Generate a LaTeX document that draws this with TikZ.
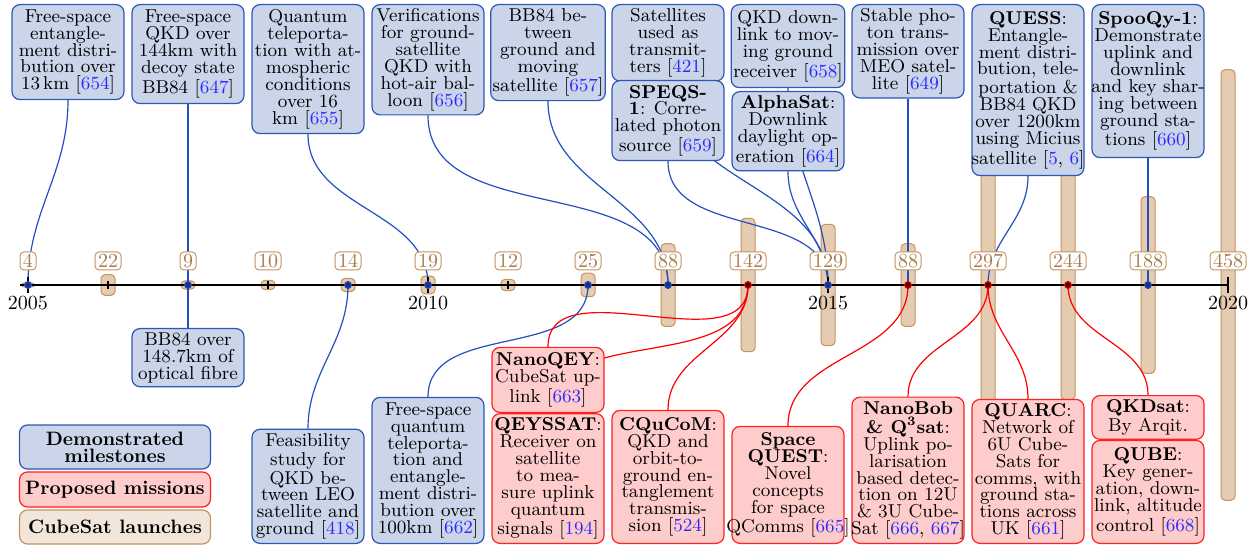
\documentclass[tikz,border=0pt]{standalone}
\usetikzlibrary{calc}
\definecolor{evblue}{HTML}{CBD5EA}
\definecolor{evblueline}{HTML}{2C56B8}
\definecolor{connblue}{HTML}{2250BE}
\definecolor{evred}{HTML}{FFCCCC}
\definecolor{evredline}{HTML}{FF2020}
\definecolor{barfill}{HTML}{E5CBB0}
\definecolor{barline}{HTML}{C49462}
\definecolor{legtan}{HTML}{F2E6DA}
\definecolor{numtext}{HTML}{A67A4E}
\definecolor{citeblue}{HTML}{2A2AFF}
\definecolor{dotblue}{HTML}{1B2F8A}
\pgfdeclarelayer{bars}
\pgfdeclarelayer{links}
\pgfsetlayers{bars,links,main}
\newcommand{\refn}[1]{[\textcolor{citeblue}{#1}]}
\newcommand{\ovl}[1]{\makebox[0pt]{#1}}
\tikzset{
  hpx/.style={minimum height=#1*0.5pt},
  evbox/.style={rounded corners=4pt, line width=0.6pt, align=center, minimum width=56pt,
    inner xsep=1pt, inner ysep=2pt, font=\fontsize{9.3}{8.45}\selectfont},
  bluebox/.style={evbox, draw=evblueline, fill=evblue},
  redbox/.style={evbox, draw=evredline, fill=evred},
  legbox/.style={evbox, minimum width=95.5pt, font=\fontsize{9.7}{8.6}\selectfont\bfseries},
  numlabel/.style={draw=barline, fill=white, text=numtext, rounded corners=2pt,
    inner xsep=1.5pt, inner ysep=1.2pt, text height=6.6pt, text depth=0pt,
    font=\fontsize{10}{10}\selectfont, line width=0.5pt},
  yearlabel/.style={font=\fontsize{10}{10}\selectfont, inner sep=0pt},
  bluelink/.style={draw=connblue, line width=0.6pt},
  redlink/.style={draw=red, line width=0.6pt},
  barbox/.style={fill=barfill, draw=barline, line width=0.5pt},
}
\begin{document}
\begin{tikzpicture}[x=0.5pt,y=-0.5pt]
\useasboundingbox (0,0) rectangle (1257,550);

% year coordinates
\foreach \yr in {2005,...,2020}
  \coordinate (y\yr) at ({28+80*(\yr-2005)},285);

% CubeSat bars
\begin{pgfonlayer}{bars}
\foreach \yr/\n in {2005/4,2006/22,2007/9,2008/10,2009/14,2010/19,2011/12,2012/25,
                    2013/88,2014/142,2015/129,2016/88,2017/297,2018/244,2019/188,2020/458}{
  \pgfmathsetmacro\hh{0.47*\n}
  \pgfmathsetmacro\rr{min(2,0.235*\n)}
  \draw[barbox, rounded corners=\rr pt] ($(y\yr)+(-7,-\hh)$) rectangle ($(y\yr)+(7,\hh)$);
}
\end{pgfonlayer}

% axis
\draw[line width=1pt] (20,285) -- (y2020);
\foreach \yr in {2006,2007,2008,2009,2011,2012,2013,2014,2016,2017,2018,2019}
  \draw[line width=0.6pt] ($(y\yr)+(0,-4)$) -- ($(y\yr)+(0,4)$);
\foreach \yr in {2005,2010,2015,2020}
  \draw[line width=1pt] ($(y\yr)+(0,-8)$) -- ($(y\yr)+(0,8)$);

% dots
\foreach \yr in {2005,2007,2009,2010,2012,2013,2015,2019}
  \draw[connblue, fill=dotblue, line width=0.5pt] (y\yr) circle[radius=1.7pt];
\foreach \yr in {2014,2016,2017,2018}
  \draw[red, fill=black!75!red, line width=0.5pt] (y\yr) circle[radius=1.7pt];

% number labels
\foreach \yr/\n in {2005/4,2006/22,2007/9,2008/10,2009/14,2010/19,2011/12,2012/25,
                    2013/88,2014/142,2015/129,2016/88,2017/297,2018/244,2019/188,2020/458}
  \node[numlabel] (n\yr) at ($(y\yr)+(0,-24)$) {\n};

% year labels
\foreach \yr in {2005,2010,2015,2020}
  \node[yearlabel] (l\yr) at ($(y\yr)+(0,18)$) {\yr};

% top boxes
\node[bluebox,anchor=north,hpx=95] (t1) at (68,4) {Free-space\\entangle-\\ment distri-\\bution over\\13\,km \refn{654}};
\node[bluebox,anchor=north,hpx=99] (t2) at (188,4) {Free-space\\QKD over\\144km with\\decoy state\\BB84 \refn{647}};
\node[bluebox,anchor=north,hpx=129] (t3) at (308,4) {Quantum\\teleporta-\\tion with at-\\mospheric\\conditions\\over 16\\km \refn{655}};
\node[bluebox,anchor=north,hpx=110] (t4) at (428,4) {Verifications\\for ground-\\satellite\\QKD with\\hot-air bal-\\loon \refn{656}};
\node[bluebox,anchor=north,hpx=95] (t5) at (548,4) {BB84 be-\\tween\\ground and\\moving\\satellite \refn{657}};
\node[bluebox,anchor=north,hpx=72] (t6) at (668,4) {Satellites\\used as\\transmit-\\ters \refn{421}};
\node[bluebox,anchor=north,hpx=80] (t7) at (668,80) {\textbf{SPEQS-}\\\textbf{1}: Corre-\\lated photon\\source \refn{659}};
\node[bluebox,anchor=north,hpx=83] (t8) at (788,4) {QKD down-\\link to mov-\\ing ground\\receiver \refn{658}};
\node[bluebox,anchor=north,hpx=78] (t9) at (788,91) {\textbf{AlphaSat}:\\Downlink\\daylight op-\\eration \refn{664}};
\node[bluebox,anchor=north,hpx=93] (t10) at (908,4) {Stable pho-\\ton trans-\\mission over\\MEO satel-\\lite \refn{649}};
\node[bluebox,anchor=north,hpx=171] (t11) at (1028,4) {\textbf{QUESS}:\\Entangle-\\ment distri-\\bution, tele-\\portation \&\\BB84 QKD\\\ovl{over 1200km}\\\ovl{using Micius}\\\ovl{satellite [\textcolor{citeblue}{5}, \textcolor{citeblue}{6}]}};
\node[bluebox,anchor=north,hpx=153] (t12) at (1148,4) {\textbf{SpooQy-1}:\\\ovl{Demonstrate}\\uplink and\\downlink\\\ovl{and key shar-}\\ing between\\ground sta-\\tions \refn{660}};

% bottom boxes
\node[bluebox,anchor=north,hpx=55] (b1) at (188,328) {BB84 over\\148.7km of\\optical fibre};
\node[bluebox,anchor=south,hpx=114] (b2) at (308,544) {Feasibility\\study for\\QKD be-\\tween LEO\\\ovl{satellite and}\\ground \refn{418}};
\node[bluebox,anchor=south,hpx=146] (b3) at (428,544) {Free-space\\quantum\\teleporta-\\tion and\\entangle-\\\ovl{ment distri-}\\\ovl{bution over}\\\ovl{100km \refn{662}}};
\node[redbox,anchor=south,hpx=65] (b4) at (548,413) {\ovl{\textbf{NanoQEY}:}\\CubeSat up-\\link \refn{663}};
\node[redbox,anchor=south,hpx=127] (b5) at (548,544) {\ovl{\textbf{QEYSSAT}:}\\Receiver on\\satellite\\to mea-\\sure uplink\\quantum\\signals \refn{194}};
\node[redbox,anchor=south,hpx=133] (b6) at (668,544) {\textbf{CQuCoM}:\\QKD and\\orbit-to-\\ground en-\\tanglement\\transmis-\\sion \refn{524}};
\node[redbox,anchor=south,hpx=117] (b7) at (788,544) {\textbf{Space}\\\textbf{QUEST}:\\Novel\\concepts\\for space\\\ovl{QComms \refn{665}}};
\node[redbox,anchor=south,hpx=143] (b8) at (908,544) {\textbf{NanoBob}\\[1.2pt]\textbf{\& Q\textsuperscript{3}sat}:\\Uplink po-\\larisation\\\ovl{based detec-}\\tion on 12U\\\& 3U Cube-\\\ovl{Sat [\textcolor{citeblue}{666}, \textcolor{citeblue}{667}]}};
\node[redbox,anchor=south,hpx=138] (b9) at (1028,544) {\textbf{QUARC}:\\Network of\\6U Cube-\\Sats for\\\ovl{comms, with}\\ground sta-\\\ovl{tions across}\\UK \refn{661}};
\node[redbox,anchor=north,hpx=43] (b10) at (1148,395) {\textbf{QKDsat}:\\By Arqit.};
\node[redbox,anchor=south,hpx=103] (b11) at (1148,544) {\textbf{QUBE}:\\Key gener-\\\ovl{ation, down-}\\\ovl{link, altitude}\\control \refn{668}};

% legend
\node[legbox, draw=evblueline, fill=evblue, hpx=44] (lg1) at (115,447) {Demonstrated\\milestones};
\node[legbox, draw=evredline, fill=evred, hpx=35] (lg2) at (115,489.5) {Proposed missions};
\node[legbox, draw=barline, fill=legtan, hpx=34] (lg3) at (115,527) {CubeSat launches};

% connectors
\begin{pgfonlayer}{links}
\draw[bluelink] (t1.south) to[out=-90,in=90] (y2005);
\draw[bluelink] (t2.south) -- (y2007);
\draw[bluelink] (y2007) -- (b1.north);
\draw[bluelink] (t3.south) to[out=-90,in=90] (y2010);
\draw[bluelink] (t4.south) to[out=-90,in=90] (y2013);
\draw[bluelink] (t5.south) to[out=-90,in=90] (y2013);
\draw[bluelink] (t6.south) to[out=-90,in=90] (y2015);
\draw[bluelink] (t7.south) to[out=-90,in=90] (y2015);
\draw[bluelink] (t8.south) to[out=-90,in=90] (y2015);
\draw[bluelink] (t9.south) to[out=-90,in=90] (y2015);
\draw[bluelink] (t10.south) -- (y2016);
\draw[bluelink] (t11.south) to[out=-90,in=90] (y2017);
\draw[bluelink] (t12.south) -- (y2019);
\draw[bluelink] (b2.north) to[out=90,in=-90] (y2009);
\draw[bluelink] (b3.north) to[out=90,in=-90] (y2012);
\draw[redlink] (b4.north) to[out=90,in=-90] (y2014);
\draw[redlink] (b5.north) to[out=90,in=-90] (y2014);
\draw[redlink] (b6.north) to[out=90,in=-90] (y2014);
\draw[redlink] (b7.north) to[out=90,in=-90] (y2016);
\draw[redlink] (b8.north) to[out=90,in=-90] (y2017);
\draw[redlink] (b9.north) to[out=90,in=-90] (y2017);
\draw[redlink] (b10.north) to[out=90,in=-90] (y2018);
\draw[redlink] (b11.north) -- (b10.south);
\end{pgfonlayer}
\end{tikzpicture}
\end{document}
